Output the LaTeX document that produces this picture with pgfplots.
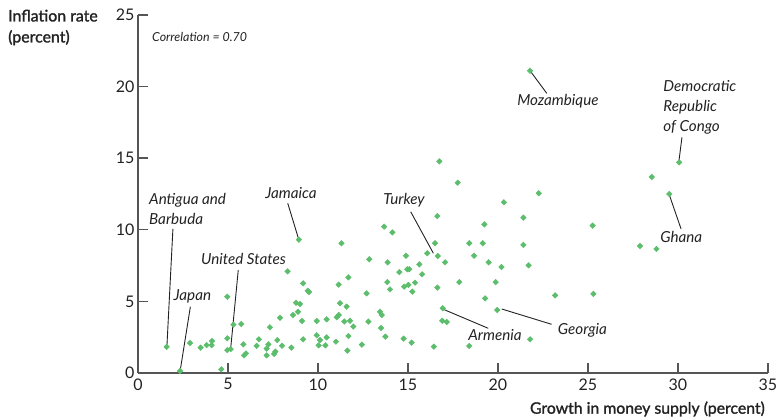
\documentclass[border=0pt]{standalone}
\usepackage{pgfplots}
\pgfplotsset{compat=1.18}
\usepackage{fontspec}
\setmainfont{Lato}
\newfontfamily\semib[FakeBold=1.5]{Lato}
\definecolor{ptgreen}{HTML}{5CBD6C}
\definecolor{axgray}{HTML}{555555}
\definecolor{txt}{HTML}{222222}
\begin{document}
\begin{tikzpicture}
\useasboundingbox (-138pt,-47pt) rectangle (642pt,373pt);
\begin{axis}[
  at={(0pt,0pt)}, anchor=south west,
  scale only axis, width=630pt, height=358pt,
  xmin=0, xmax=35, ymin=0, ymax=25,
  axis lines*=left,
  axis line style={axgray, line width=1.4pt},
  tick style={axgray, line width=1.4pt},
  tick align=inside, major tick length=10pt,
  xtick={0,5,...,35}, ytick={0,5,...,25},
  ticklabel style={font=\fontsize{16}{19}\selectfont, text=txt},
  /pgf/number format/assume math mode=true,
  xticklabel style={yshift=-2pt},
  clip=false,
]
\addplot[only marks, mark=square*, mark size=2pt, mark options={rotate=45, fill=ptgreen, draw=ptgreen}] coordinates {
(1.59,1.82) (2.33,0.14) (2.89,2.10) (3.48,1.77) (3.81,1.95) (4.11,2.23) (4.09,1.95) (4.63,0.26)
(4.96,5.33) (4.96,2.42) (4.96,1.60) (5.15,1.67) (5.30,3.37) (5.74,3.42) (5.85,2.00) (5.89,1.23)
(6.00,1.37) (6.59,1.89) (6.72,2.35) (7.15,1.70) (7.15,1.23) (7.24,2.00) (7.33,3.19) (7.56,1.33)
(7.63,1.49) (7.74,2.30) (8.00,1.91) (7.89,3.86) (8.31,7.10) (8.52,1.77) (8.61,4.05) (8.78,4.91)
(9.00,4.82) (8.89,4.28) (9.11,3.63) (9.17,6.26) (9.17,2.35) (9.43,5.75) (9.50,5.66) (8.94,9.31)
(9.93,3.63) (9.93,2.63) (10.04,1.93) (10.11,2.30) (10.41,1.93) (10.48,2.49) (10.48,3.75) (11.00,2.19)
(11.04,3.89) (11.15,4.05) (11.15,6.17) (11.22,4.87) (11.30,9.06) (11.46,3.60) (11.59,4.63) (11.69,6.68)
(11.69,2.58) (11.78,3.65) (11.96,3.24) (11.63,1.56) (12.44,1.98) (12.70,5.56) (12.80,3.59) (12.85,7.94)
(13.44,4.28) (13.54,4.05) (13.50,3.14) (13.67,10.22) (13.74,2.54) (13.87,7.73) (13.85,6.35) (14.00,5.84)
(14.13,9.82) (14.52,7.05) (14.78,6.03) (14.76,2.40) (14.89,8.19) (14.96,7.24) (15.07,7.24) (15.02,6.15)
(15.24,5.68) (15.20,2.12) (15.39,6.31) (15.63,7.59) (15.78,6.89) (16.07,8.36) (16.50,9.06) (16.63,10.96)
(16.65,8.17) (16.63,5.96) (16.44,1.84) (16.93,4.52) (16.90,3.65) (17.15,3.56) (17.06,7.73) (17.85,6.35)
(18.40,9.06) (18.40,1.89) (18.67,8.19) (19.15,9.06) (19.24,10.38) (19.28,5.21) (19.48,7.73) (19.87,6.35)
(19.96,4.40) (16.74,14.78) (17.76,13.29) (22.26,12.55) (20.33,11.92) (21.41,10.85) (25.26,10.29) (21.41,8.94)
(20.19,7.40) (21.70,7.52) (23.17,5.42) (25.30,5.52) (21.78,2.35) (21.78,21.11) (30.06,14.71) (28.54,13.69)
(29.52,12.50) (27.89,8.87) (28.80,8.66)
};
% leader lines
\begin{scope}[draw=txt, line width=0.9pt]
\draw (axis cs:1.94,10.06) -- (axis cs:1.61,1.96);
\draw (axis cs:2.91,4.63) -- (axis cs:2.35,0.21);
\draw (axis cs:5.57,7.19) -- (axis cs:5.15,1.72);
\draw (axis cs:8.32,11.85) -- (axis cs:8.91,9.41);
\draw (axis cs:15.15,11.26) -- (axis cs:16.41,8.36);
\draw (axis cs:16.96,4.45) -- (axis cs:19.46,3.12);
\draw (axis cs:20.21,4.47) -- (axis cs:22.98,3.40);
\draw (axis cs:29.52,12.43) -- (axis cs:30.17,10.06);
\draw (axis cs:30.22,16.46) -- (axis cs:30.06,14.87);
\draw (axis cs:21.78,21.11) -- (axis cs:22.71,19.53);
\end{scope}
\begin{scope}[every node/.style={inner sep=0pt, text=txt, font=\itshape\fontsize{15.2}{19.7}\selectfont}]
\node[anchor=west, align=left] at (axis cs:0.61,11.45) {Antigua and\\Barbuda};
\node at (axis cs:3.02,5.33) {Japan};
\node at (axis cs:5.86,7.94) {United States};
\node at (axis cs:8.5,12.59) {Jamaica};
\node at (axis cs:14.78,12.08) {Turkey};
\node at (axis cs:19.83,2.65) {Armenia};
\node at (axis cs:24.69,2.95) {Georgia};
\node at (axis cs:30.18,9.52) {Ghana};
\node[anchor=west, align=left] at (axis cs:29.18,18.55) {Democratic\\Republic\\of Congo};
\node at (axis cs:23.33,18.95) {Mozambique};
\node[anchor=west, font=\itshape\fontsize{12.4}{14}\selectfont] at (axis cs:0.78,23.46) {Correlation = 0.70};
\end{scope}
\node[anchor=west, align=left, inner sep=0pt, text=txt, font=\semib\fontsize{15.9}{21}\selectfont] at (axis cs:-7.22,24.13) {Inflation rate\\(percent)};
\node[anchor=east, inner sep=0pt, text=txt, font=\semib\fontsize{15.8}{18}\selectfont] at (axis cs:34.83,-2.51) {Growth in money supply (percent)};
\end{axis}
\end{tikzpicture}
\end{document}
